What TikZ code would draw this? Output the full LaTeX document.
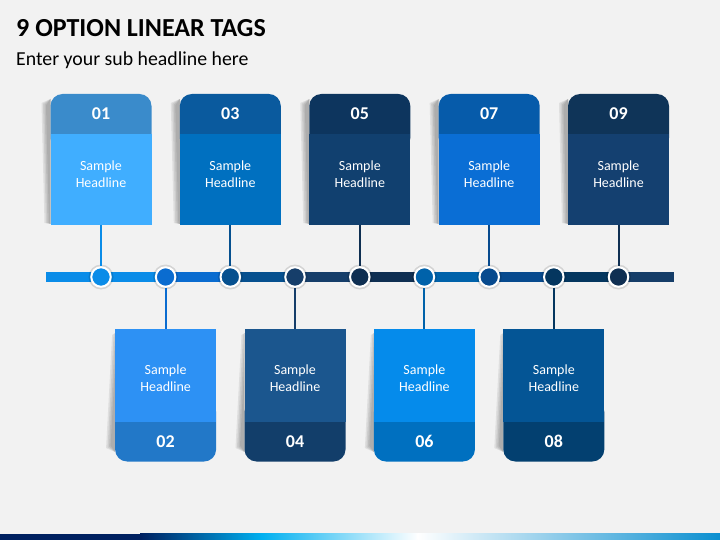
\documentclass[tikz,border=0pt]{standalone}
\usepackage{fontspec}
\setmainfont{Carlito}
\definecolor{bg}{HTML}{F2F2F2}
% circle / segment colours
\definecolor{k1}{HTML}{0A8CE8}
\definecolor{k2}{HTML}{0A6CD0}
\definecolor{k3}{HTML}{06508F}
\definecolor{k4}{HTML}{163E6A}
\definecolor{k5}{HTML}{0F2F52}
\definecolor{k6}{HTML}{0062AA}
\definecolor{k7}{HTML}{074A8E}
\definecolor{k8}{HTML}{04365F}
\definecolor{k9}{HTML}{0F2F52}
\definecolor{k10}{HTML}{153D68}
% tag colours
\definecolor{h1}{HTML}{3A8BCB}\definecolor{d1}{HTML}{40AEFF}
\definecolor{h3}{HTML}{0A5A9E}\definecolor{d3}{HTML}{0070C0}
\definecolor{h5}{HTML}{0D355E}\definecolor{d5}{HTML}{11406F}
\definecolor{h7}{HTML}{065BAA}\definecolor{d7}{HTML}{0A6ED5}
\definecolor{h9}{HTML}{0F3458}\definecolor{d9}{HTML}{144070}
\definecolor{d2}{HTML}{2D91F4}\definecolor{h2}{HTML}{2278C8}
\definecolor{d4}{HTML}{1B568E}\definecolor{h4}{HTML}{123E6A}
\definecolor{d6}{HTML}{058BEB}\definecolor{h6}{HTML}{0070C0}
\definecolor{d8}{HTML}{045595}\definecolor{h8}{HTML}{034070}
\definecolor{navy}{HTML}{002060}
\definecolor{cyanb}{HTML}{00B0F0}
\definecolor{endb}{HTML}{0A8FD0}
\tikzset{
  bodybox/.style={rectangle, minimum width=101pt, inner sep=0pt, draw=none},
  numtxt/.style={text=white, font=\fontsize{18}{20}\selectfont\bfseries, inner sep=0pt},
  headtxt/.style={text=white, font=\fontsize{14}{17}\selectfont, align=center, inner sep=0pt},
  dot/.style={circle, draw=white, line width=2pt, minimum size=19.5pt, inner sep=0pt},
  seg/.style={line width=10pt},
  conn/.style={line width=2pt},
}
\newcommand{\TagShadowTop}[1]{%
  \foreach \o/\a in {0/0.08,1.5/0.08,3/0.08,4.5/0.08}{
    \fill[black,opacity=\a] (#1-50.5-9+\o,103+\o*0.5) -- (#1-50.5,99) -- (#1-50.5,224) -- (#1-50.5-6+\o,223) -- cycle;}
}
\newcommand{\TagShadowBot}[1]{%
  \foreach \o/\a in {0/0.08,1.5/0.08,3/0.08,4.5/0.08}{
    \fill[black,opacity=\a] (#1-50.5-3+\o,335) -- (#1-50.5,333) -- (#1-50.5,452) -- (#1-50.5-9+\o,448-\o*0.5) -- cycle;}
}
\newcommand{\TopTag}[5]{%
  \TagShadowTop{#2}
  \fill[#3, rounded corners=12pt] (#2-50.5,94) rectangle (#2+50.5,150);
  \node[bodybox, fill=#4, minimum height=91pt] (b#1) at (#2,179.5) {};
  \node[numtxt] (n#1) at (#2,114) {#5};
  \node[headtxt] (s#1) at (#2,174.5) {Sample\\Headline};
}
\newcommand{\BotTag}[5]{%
  \TagShadowBot{#2}
  \fill[#3, rounded corners=12pt] (#2-50.5,400) rectangle (#2+50.5,461.5);
  \node[bodybox, fill=#4, minimum height=93pt] (b#1) at (#2,375.5) {};
  \node[numtxt] (n#1) at (#2,441.5) {#5};
  \node[headtxt] (s#1) at (#2,378.5) {Sample\\Headline};
}
\begin{document}
\begin{tikzpicture}[x=1pt,y=-1pt]
\useasboundingbox (0,0) rectangle (720,540);
\fill[bg] (0,0) rectangle (720,540);
% title
\node[anchor=base west, inner sep=0pt, font=\fontsize{26}{30}\selectfont\bfseries, text=black] (title) at (16,36.5) {9 OPTION LINEAR TAGS};
\node[anchor=base west, inner sep=0pt, font=\fontsize{19.8}{23}\selectfont, text=black] (sub) at (16,66) {Enter your sub headline here};
% bottom strip
\fill[navy] (0,533.5) rectangle (140,540);
\shade[left color=navy, right color=cyanb] (140,533.5) rectangle (262,540);
\shade[left color=cyanb, right color=white] (261.5,533.5) rectangle (418,540);
\shade[left color=white, right color=endb] (417.5,533.5) rectangle (720,540);
% timeline
\coordinate (p0) at (46,277);
\coordinate (p1) at (101,277);
\coordinate (p2) at (165.6,277);
\coordinate (p3) at (230.3,277);
\coordinate (p4) at (295,277);
\coordinate (p5) at (359.8,277);
\coordinate (p6) at (424.4,277);
\coordinate (p7) at (489.2,277);
\coordinate (p8) at (553.8,277);
\coordinate (p9) at (618.5,277);
\coordinate (p10) at (674,277);
\draw[seg, k1] (p0) -- (p1);
\draw[seg, k1] (p1) -- (p2);
\draw[seg, k2] (p2) -- (p3);
\draw[seg, k3] (p3) -- (p4);
\draw[seg, k4] (p4) -- (p5);
\draw[seg, k5] (p5) -- (p6);
\draw[seg, k6] (p6) -- (p7);
\draw[seg, k7] (p7) -- (p8);
\draw[seg, k8] (p8) -- (p9);
\draw[seg, k10] (p9) -- (p10);
\foreach \i in {1,...,9}{
  \fill[black, opacity=0.12] (p\i) circle[radius=12.5pt];
  \node[dot, fill=k\i] (c\i) at (p\i) {};
}
% tags
\TopTag{1}{101}{h1}{d1}{01}
\TopTag{3}{230.3}{h3}{d3}{03}
\TopTag{5}{359.8}{h5}{d5}{05}
\TopTag{7}{489.2}{h7}{d7}{07}
\TopTag{9}{618.5}{h9}{d9}{09}
\BotTag{2}{165.6}{h2}{d2}{02}
\BotTag{4}{295}{h4}{d4}{04}
\BotTag{6}{424.4}{h6}{d6}{06}
\BotTag{8}{553.8}{h8}{d8}{08}
% connectors
\foreach \i in {1,3,5,7,9}{ \draw[conn, k\i] (b\i.south) -- (c\i); }
\foreach \i in {2,4,6,8}{ \draw[conn, k\i] (c\i) -- (b\i.north); }
\end{tikzpicture}
\end{document}
